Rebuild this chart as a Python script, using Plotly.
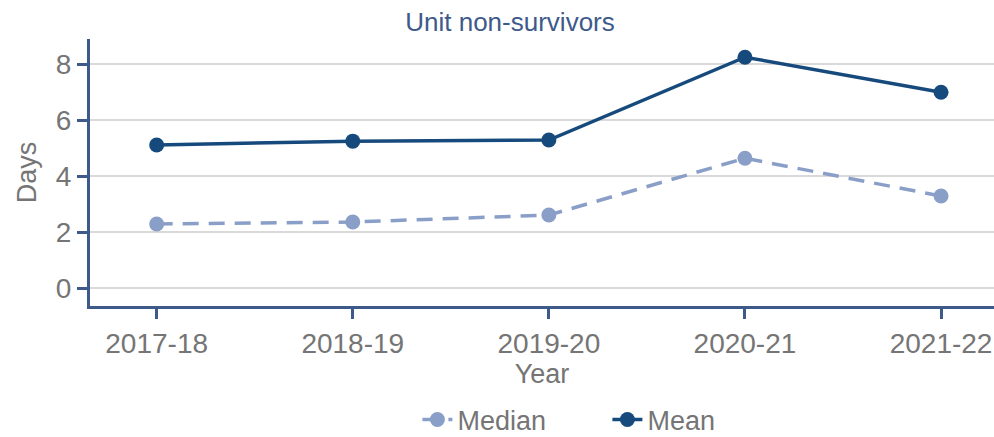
import plotly.graph_objects as go

years = ["2017-18", "2018-19", "2019-20", "2020-21", "2021-22"]
median_days = [2.29, 2.36, 2.61, 4.64, 3.29]
mean_days = [5.11, 5.25, 5.29, 8.25, 7.0]
y_ticks = [0, 2, 4, 6, 8]

AXIS = "#3d5a8a"
GREY = "#757575"
MEAN_C = "#174a7c"
MED_C = "#8a9fc8"
FONT = "Liberation Sans, Arial, sans-serif"

fig = go.Figure()
fig.add_trace(go.Scatter(
    x=years, y=median_days, name="Median", mode="lines+markers",
    line=dict(color=MED_C, width=3.5, dash="16px,10px"),
    marker=dict(size=15, color=MED_C),
))
fig.add_trace(go.Scatter(
    x=years, y=mean_days, name="Mean", mode="lines+markers",
    line=dict(color=MEAN_C, width=3.5),
    marker=dict(size=15, color=MEAN_C),
))

fig.update_layout(
    width=994, height=437,
    margin=dict(l=90, r=0, t=39, b=131, autoexpand=False),
    paper_bgcolor="white", plot_bgcolor="white",
    font=dict(family=FONT, size=27, color=GREY),
    title=dict(text="Unit non-survivors", x=510/994, xanchor="center",
               y=1 - 22/437, yanchor="middle",
               font=dict(size=26, color=AXIS, family=FONT)),
    showlegend=True,
    legend=dict(orientation="h", x=360/994, xanchor="left",
                y=-(420-306)/(306-39), yanchor="middle",
                entrywidth=145, entrywidthmode="pixels",
                font=dict(size=27, color=GREY)),
    xaxis=dict(
        type="category", range=[-0.34, 4.27], automargin=False,
        showline=True, linecolor=AXIS, linewidth=3,
        ticks="outside", tickcolor=AXIS, tickwidth=3, ticklen=10,
        tickfont=dict(size=28, color=GREY),
        showgrid=False, zeroline=False,
        title=dict(text="Year", font=dict(size=27, color=GREY), standoff=0),
    ),
    yaxis=dict(
        range=[-0.64, 8.9], tickvals=y_ticks, automargin=False,
        showline=True, linecolor=AXIS, linewidth=3,
        ticks="outside", tickcolor=AXIS, tickwidth=3, ticklen=10,
        tickfont=dict(size=28, color=GREY),
        showgrid=True, gridcolor="#d9d9d9", gridwidth=2,
        zeroline=False,
        title=dict(text="Days", font=dict(size=27, color=GREY), standoff=12),
    ),
)

fig.write_html(
    "out.html",
    config={"displayModeBar": False},
    post_script="document.body.style.margin='0';document.body.style.overflow='hidden';",
)
